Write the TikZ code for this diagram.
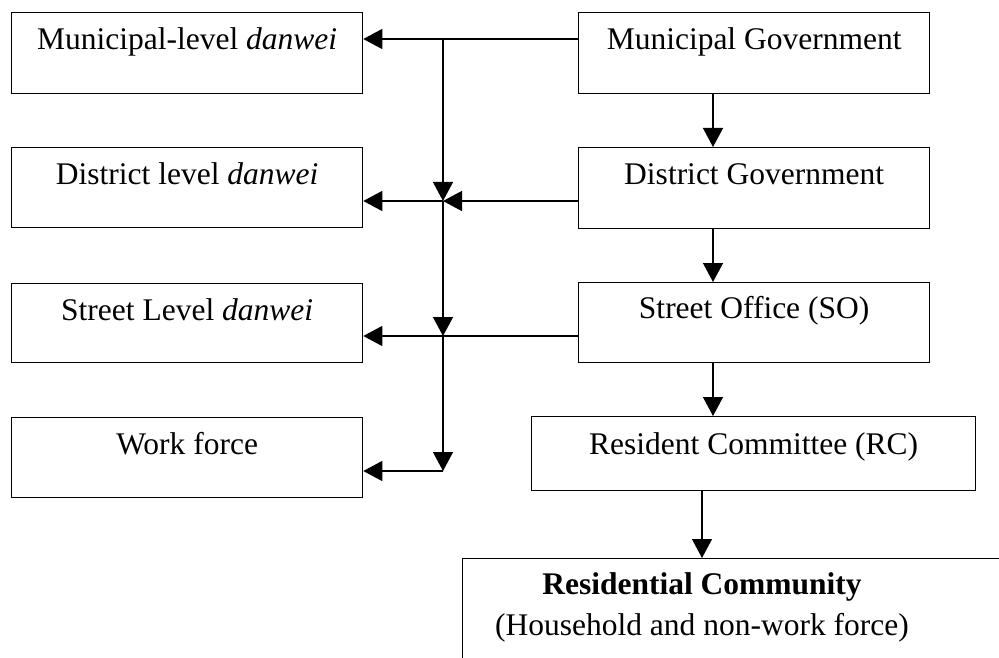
\documentclass[tikz,border=0pt]{standalone}
\usepackage{fontspec}
\setmainfont{Liberation Serif}
\usetikzlibrary{arrows.meta,calc}
\begin{document}
\begin{tikzpicture}[x=1pt,y=-1pt,
  box/.style={draw=black, line width=1.3pt, anchor=north west, inner sep=0pt, minimum width=351pt},
  txt/.style={anchor=base, inner sep=0pt, font=\fontsize{31.5}{40}\selectfont},
  arr/.style={line width=1.3pt, -{Triangle[length=19pt,width=20pt]}},
  ln/.style={line width=1.3pt}]
\useasboundingbox (0,0) rectangle (999,658);
\clip (0,0) rectangle (999,658);
% left column
\node[box, minimum height=81pt] (md) at (11,12) {};
\node[box, minimum height=80pt] (dd) at (11,147) {};
\node[box, minimum height=79pt] (sd) at (11,283) {};
\node[box, minimum height=80pt] (wf) at (11,417) {};
% right column
\node[box, minimum height=81pt] (mg) at (578,12) {};
\node[box, minimum height=81pt] (dg) at (578,147) {};
\node[box, minimum height=80pt] (so) at (578,282) {};
\node[box, minimum width=444pt, minimum height=74pt] (rc) at (531,416) {};
\node[box, minimum width=600pt, minimum height=200pt] (rcom) at (462,558) {};
% texts
\node[txt] (mdt) at ($(md.north)+(0,38)$) {Municipal-level \textit{danwei}};
\node[txt] (ddt) at ($(dd.north)+(0,37)$) {District level \textit{danwei}};
\node[txt] (sdt) at ($(sd.north)+(0,37)$) {Street Level \textit{danwei}};
\node[txt] (wft) at ($(wf.north)+(0,37)$) {Work force};
\node[txt] (mgt) at ($(mg.north)+(0,38)$) {Municipal Government};
\node[txt] (dgt) at ($(dg.north)+(0,38)$) {District Government};
\node[txt] (sot) at ($(so.north)+(0,36)$) {Street Office (SO)};
\node[txt] (rct) at ($(rc.north)+(0,38)$) {Resident Committee (RC)};
\node[txt] (rcomt1) at (702,594) {\textbf{Residential Community}};
\node[txt] (rcomt2) at (702,635) {(Household and non-work force)};
% junctions
\coordinate (j0) at (443,39);
\coordinate (j1) at (443,201);
\coordinate (j2) at (443,336);
\coordinate (j3) at (443,471);
% horizontal connectors
\draw[arr] (mg.west |- j0) -- (md.east |- j0);
\draw[arr] (dg.west |- j1) -- (j1);
\draw[arr] (j1) -- (dd.east |- j1);
\draw[arr] (so.west |- j2) -- (sd.east |- j2);
\draw[arr] (j3) -- (wf.east |- j3);
% vertical trunk
\draw[arr] (j0) -- (j1);
\draw[arr] (j1) -- (j2);
\draw[arr] (j2) -- (j3);
% right chain
\draw[arr] (mg.south -| 713,0) -- (dg.north -| 713,0);
\draw[arr] (dg.south -| 713,0) -- (so.north -| 713,0);
\draw[arr] (so.south -| 713,0) -- (rc.north -| 713,0);
\draw[arr] (rc.south -| 702,0) -- (rcom.north -| 702,0);
\end{tikzpicture}
\end{document}
